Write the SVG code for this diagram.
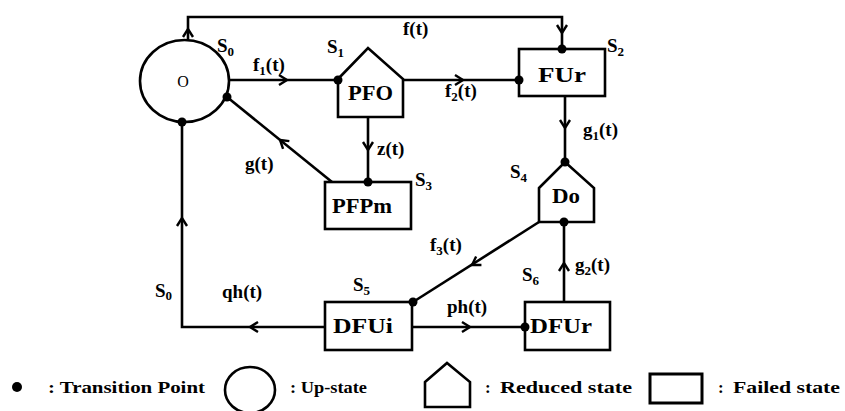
<svg xmlns="http://www.w3.org/2000/svg" width="845" height="411" viewBox="0 0 845 411">
<style>
.shape{fill:#fff;stroke:#000;stroke-width:2.6}
.line{fill:none;stroke:#000;stroke-width:2.6}
.ah{fill:none;stroke:#000;stroke-width:2.4;stroke-linejoin:miter}
.dot{fill:#000}
text{font-family:"Times New Roman","Liberation Serif",Tinos,Times,serif;font-weight:bold;fill:#000}
.lbl{font-size:19px}
.node{font-size:20px}
.sub{font-size:13px}
.leg{font-size:17px}
</style>
<defs>
<path id="ah" class="ah" d="M-8,-5 L0,0 L-8,5"/>
</defs>
<rect width="845" height="411" fill="#fff"/>
<g id="connectors">
<path class="line" d="M188,40 V17 H562 V49"/>
<path class="line" d="M229,80 H338"/>
<path class="line" d="M403,80 H519"/>
<path class="line" d="M368,117 V182"/>
<path class="line" d="M332,182 L227,97"/>
<path class="line" d="M565,96 V162"/>
<path class="line" d="M539,222 L413,302"/>
<path class="line" d="M564,302 V222"/>
<path class="line" d="M412,327 H525"/>
<path class="line" d="M325,327 H182 V122"/>
<use href="#ah" transform="translate(188,29) rotate(-90)"/>
<use href="#ah" transform="translate(562,33) rotate(90)"/>
<use href="#ah" transform="translate(287,80)"/>
<use href="#ah" transform="translate(463,80)"/>
<use href="#ah" transform="translate(368,150) rotate(90)"/>
<use href="#ah" transform="translate(280,140) rotate(-141)"/>
<use href="#ah" transform="translate(565,128) rotate(90)"/>
<use href="#ah" transform="translate(472,265) rotate(147.9)"/>
<use href="#ah" transform="translate(564,263) rotate(-90)"/>
<use href="#ah" transform="translate(470,327)"/>
<use href="#ah" transform="translate(250,327) rotate(180)"/>
<use href="#ah" transform="translate(182,218) rotate(-90)"/>
<text class="lbl" x="403" y="35">f(t)</text>
<text class="lbl" x="253" y="71">f<tspan class="sub" dy="4">1</tspan><tspan dy="-4">(t)</tspan></text>
<text class="lbl" x="445" y="97">f<tspan class="sub" dy="4">2</tspan><tspan dy="-4">(t)</tspan></text>
<text class="lbl" x="377" y="155">z(t)</text>
<text class="lbl" x="245" y="170">g(t)</text>
<text class="lbl" x="583" y="136">g<tspan class="sub" dy="4">1</tspan><tspan dy="-4">(t)</tspan></text>
<text class="lbl" x="430" y="251">f<tspan class="sub" dy="4">3</tspan><tspan dy="-4">(t)</tspan></text>
<text class="lbl" x="575" y="271">g<tspan class="sub" dy="4">2</tspan><tspan dy="-4">(t)</tspan></text>
<text class="lbl" x="447" y="313">ph(t)</text>
<text class="lbl" x="222" y="298">qh(t)</text>
<text class="lbl" x="155" y="297">S<tspan class="sub" dy="3">0</tspan></text>
</g>
<g id="S0">
<ellipse class="shape" cx="184.5" cy="81" rx="44.5" ry="41"/>
<text x="183" y="87" text-anchor="middle" style="font-size:16px;font-weight:normal">O</text>
<text class="lbl" x="217" y="52">S<tspan class="sub" dy="4">0</tspan></text>
</g>
<g id="S1">
<path class="shape" d="M338,79 L368,48 L403,79 V117 H338 Z"/>
<text class="node" x="348" y="100" textLength="45" lengthAdjust="spacingAndGlyphs">PFO</text>
<text class="lbl" x="327" y="53">S<tspan class="sub" dy="4">1</tspan></text>
</g>
<g id="S2">
<rect class="shape" x="519" y="49" width="86" height="47"/>
<text class="node" x="538" y="82" textLength="48" lengthAdjust="spacingAndGlyphs">FUr</text>
<text class="lbl" x="607" y="52">S<tspan class="sub" dy="4">2</tspan></text>
</g>
<g id="S3">
<rect class="shape" x="325" y="182" width="86" height="47"/>
<text class="node" x="332" y="213" textLength="60" lengthAdjust="spacingAndGlyphs">PFPm</text>
<text class="lbl" x="415" y="186">S<tspan class="sub" dy="4">3</tspan></text>
</g>
<g id="S4">
<path class="shape" d="M539,188 L565,162 L594,188 V222 H539 Z"/>
<text class="node" x="552" y="203" textLength="28" lengthAdjust="spacingAndGlyphs">Do</text>
<text class="lbl" x="510" y="178">S<tspan class="sub" dy="4">4</tspan></text>
</g>
<g id="S5">
<rect class="shape" x="325" y="302" width="87" height="48"/>
<text class="node" x="333" y="333" textLength="60" lengthAdjust="spacingAndGlyphs">DFUi</text>
<text class="lbl" x="353" y="291">S<tspan class="sub" dy="4">5</tspan></text>
</g>
<g id="S6">
<rect class="shape" x="525" y="302" width="85" height="48"/>
<text class="node" x="530" y="333" textLength="62" lengthAdjust="spacingAndGlyphs">DFUr</text>
<text class="lbl" x="522" y="281">S<tspan class="sub" dy="4">6</tspan></text>
</g>
<g id="dots">
<circle class="dot" cx="227" cy="97" r="4.5"/>
<circle class="dot" cx="182" cy="122" r="4.5"/>
<circle class="dot" cx="338" cy="80" r="4.5"/>
<circle class="dot" cx="519" cy="80" r="4.5"/>
<circle class="dot" cx="562" cy="49" r="4.5"/>
<circle class="dot" cx="565" cy="162" r="4.5"/>
<circle class="dot" cx="564" cy="222" r="4.5"/>
<circle class="dot" cx="368" cy="182" r="4.5"/>
<circle class="dot" cx="413" cy="302" r="4.5"/>
<circle class="dot" cx="525" cy="327" r="4.5"/>
</g>
<g id="legend">
<circle class="dot" cx="17" cy="387" r="5"/>
<text class="leg" x="48" y="393" textLength="157" lengthAdjust="spacingAndGlyphs">: Transition Point</text>
<ellipse class="shape" cx="250" cy="390" rx="25" ry="23"/>
<text class="leg" x="290" y="393" textLength="77" lengthAdjust="spacingAndGlyphs">: Up-state</text>
<path class="shape" d="M425,382 L447,363 L470,382 V407 H425 Z"/>
<text class="leg" x="485" y="393">:</text>
<text class="leg" x="500" y="393" textLength="132" lengthAdjust="spacingAndGlyphs">Reduced state</text>
<rect class="shape" x="650" y="374" width="52" height="29" style="stroke-width:3"/>
<text class="leg" x="718" y="393">:</text>
<text class="leg" x="733" y="393" textLength="107" lengthAdjust="spacingAndGlyphs">Failed state</text>
</g>
</svg>
